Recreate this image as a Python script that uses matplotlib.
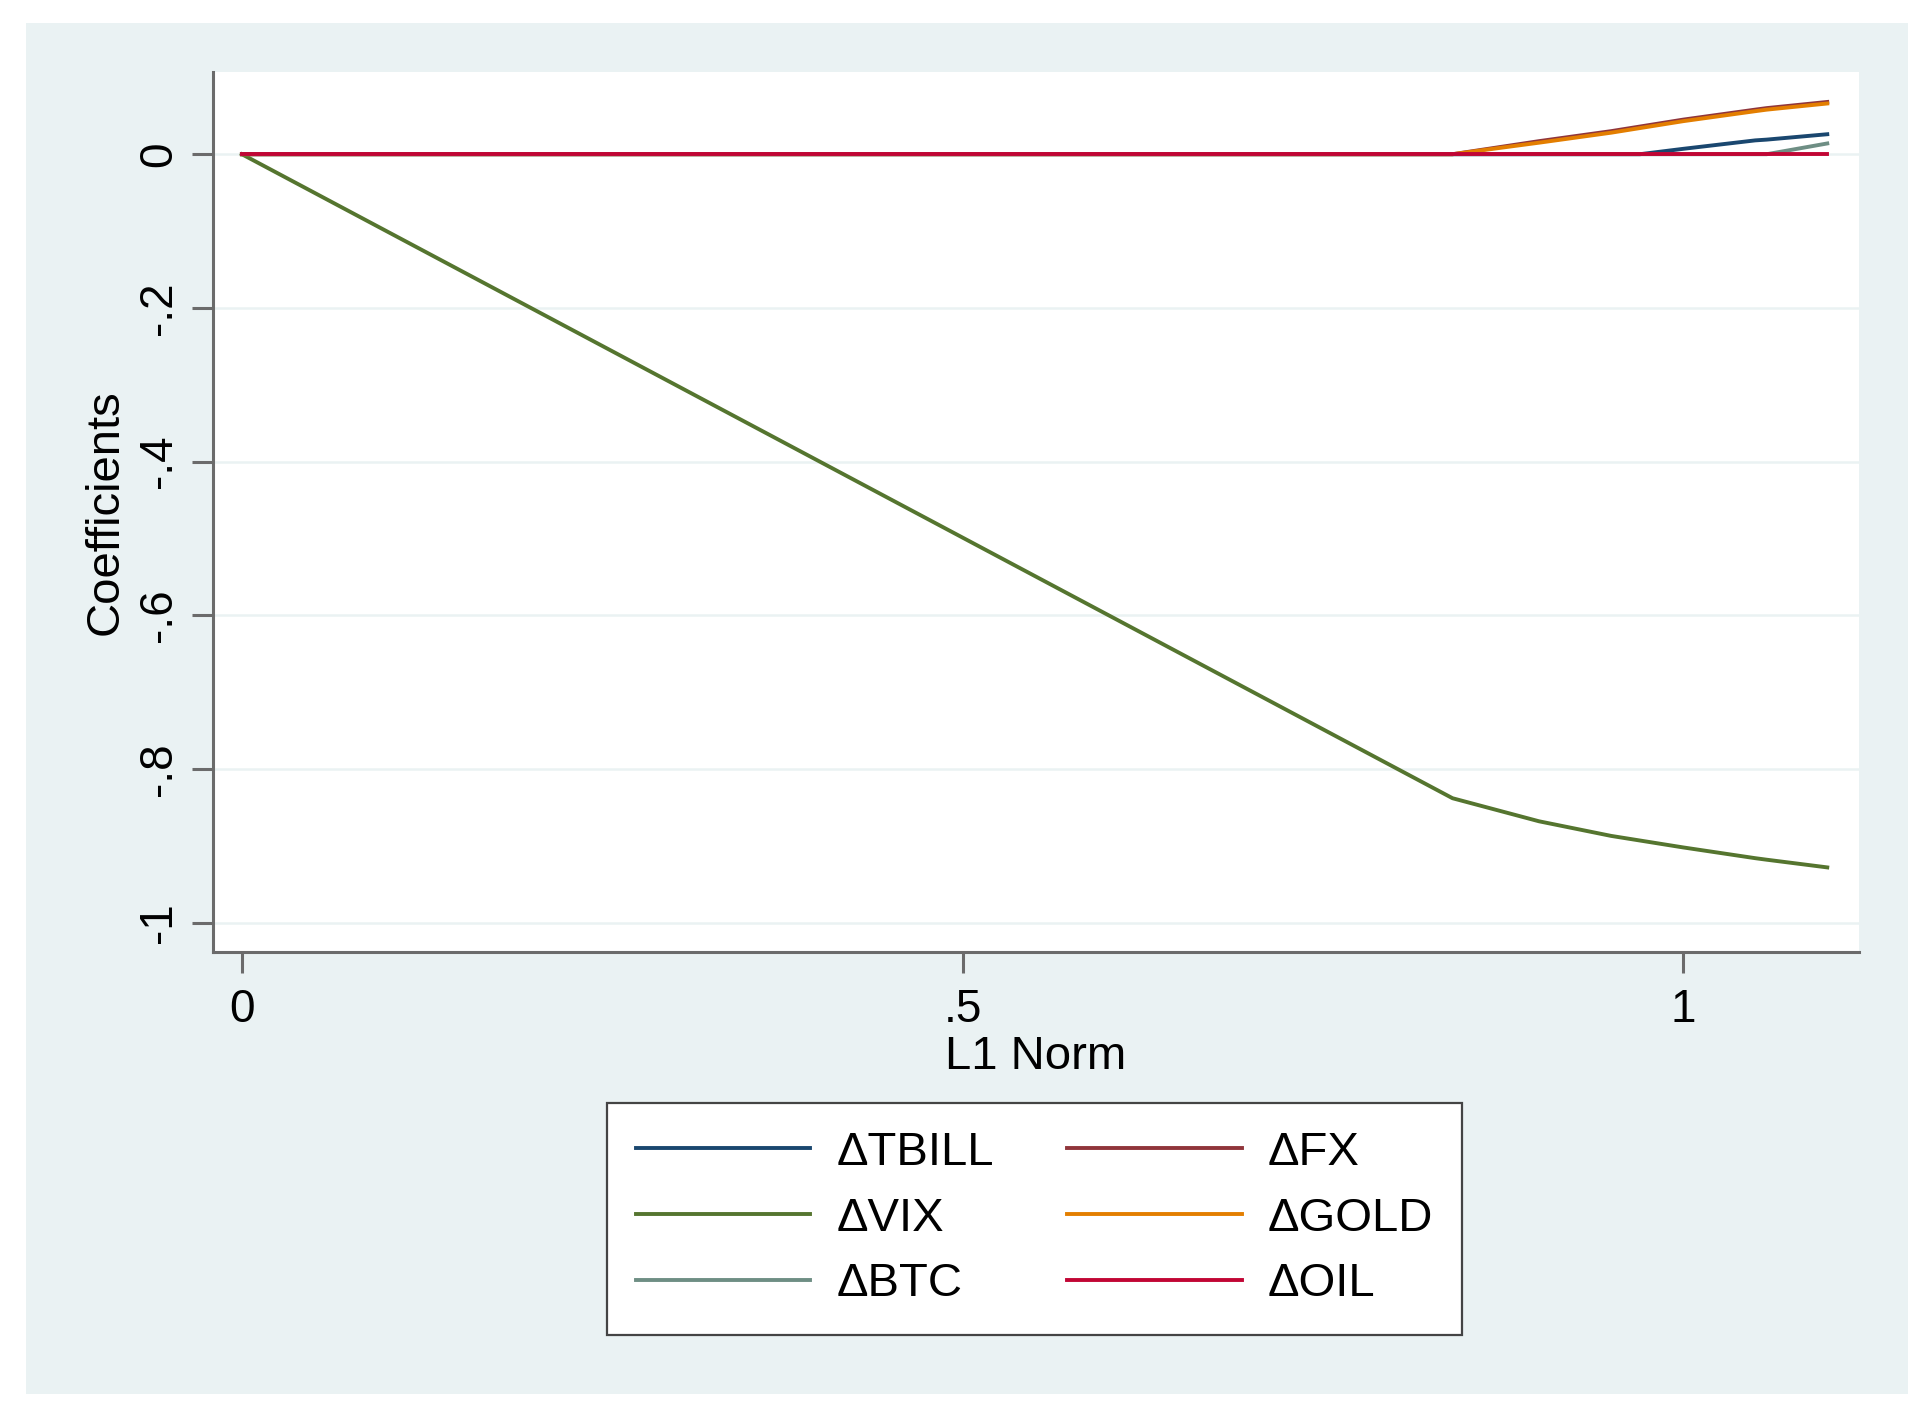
import matplotlib

matplotlib.use('Agg')
import matplotlib.pyplot as plt
from matplotlib.patches import Rectangle

plt.rcParams['font.family'] = ['Liberation Sans', 'DejaVu Sans']

# Lasso path (L1 norm on x, coefficients on y)
l1_norm = [0.0, 0.84, 0.90, 0.95, 0.97, 1.00, 1.05, 1.058, 1.10]
tbill = [0.0, 0.0, 0.0, 0.0, 0.0, 0.007, 0.018, 0.019, 0.026]
fx = [0.0, 0.0, 0.017, 0.030, 0.036, 0.045, 0.058, 0.060, 0.068]
vix = [0.0, -0.838, -0.868, -0.887, -0.893, -0.902, -0.916, -0.918, -0.928]
gold = [0.0, 0.0, 0.015, 0.028, 0.034, 0.043, 0.056, 0.058, 0.066]
btc = [0.0, 0.0, 0.0, 0.0, 0.0, 0.0, 0.0, 0.0, 0.014]
oil = [0.0, 0.0, 0.0, 0.0, 0.0, 0.0, 0.0, 0.0, 0.0]

series = [
    ('ΔTBILL', tbill, '#1a476f'),
    ('ΔFX', fx, '#90353b'),
    ('ΔVIX', vix, '#55752f'),
    ('ΔGOLD', gold, '#e37e00'),
    ('ΔBTC', btc, '#6e8e84'),
    ('ΔOIL', oil, '#c10534'),
]

y_ticks = [0, -0.2, -0.4, -0.6, -0.8, -1]
y_labels = ['0', '-.2', '-.4', '-.6', '-.8', '-1']
x_ticks = [0, 0.5, 1]
x_labels = ['0', '.5', '1']

BG = '#eaf2f3'
AXC = '#6b6b6b'

fig = plt.figure(figsize=(19.3, 14.17), dpi=100, facecolor='white')
fig.patches.append(Rectangle((26 / 1930, 1 - 1394 / 1417), (1908 - 26) / 1930,
                             (1394 - 23) / 1417, transform=fig.transFigure,
                             facecolor=BG, edgecolor='none', zorder=-10))

ax = fig.add_axes([0.1104, 0.3282, 0.8528, 0.621])
ax.set_facecolor('white')
ax.set_zorder(1)

handles = {}
for name, vals, col in series:
    ln, = ax.plot(l1_norm, vals, color=col, lw=2.8, label=name, zorder=3)
    handles[name] = ln

ax.set_xlim(-0.020, 1.122)
ax.set_ylim(-1.038, 0.107)
ax.set_yticks(y_ticks)
ax.set_yticklabels(y_labels, rotation=90, va='center')
ax.set_xticks(x_ticks)
ax.set_xticklabels(x_labels)
for y in y_ticks:
    ax.axhline(y, color=BG, lw=1.8, zorder=1)

for s in ['top', 'right']:
    ax.spines[s].set_visible(False)
for s in ['left', 'bottom']:
    ax.spines[s].set_color(AXC)
    ax.spines[s].set_linewidth(2.2)
ax.tick_params(axis='both', length=15, width=2.2, color=AXC, labelsize=33)
ax.tick_params(axis='x', pad=11)
ax.tick_params(axis='y', pad=8)

ax.set_xlabel('L1 Norm', fontsize=34, labelpad=2)
ax.set_ylabel('Coefficients', fontsize=34, labelpad=7)

order = ['ΔTBILL', 'ΔVIX', 'ΔBTC', 'ΔFX', 'ΔGOLD', 'ΔOIL']
leg = fig.legend([handles[k] for k in order], order, ncol=2,
                 loc='center', bbox_to_anchor=(0.536, 0.140),
                 fontsize=34, frameon=True, fancybox=False,
                 edgecolor='#444444', framealpha=1, handlelength=3.7,
                 handletextpad=0.55, columnspacing=1.55, labelspacing=0.46,
                 borderpad=0.6)
leg.get_frame().set_linewidth(1.6)
leg.set_zorder(2)

fig.savefig('out.png', dpi=100, facecolor='white')
